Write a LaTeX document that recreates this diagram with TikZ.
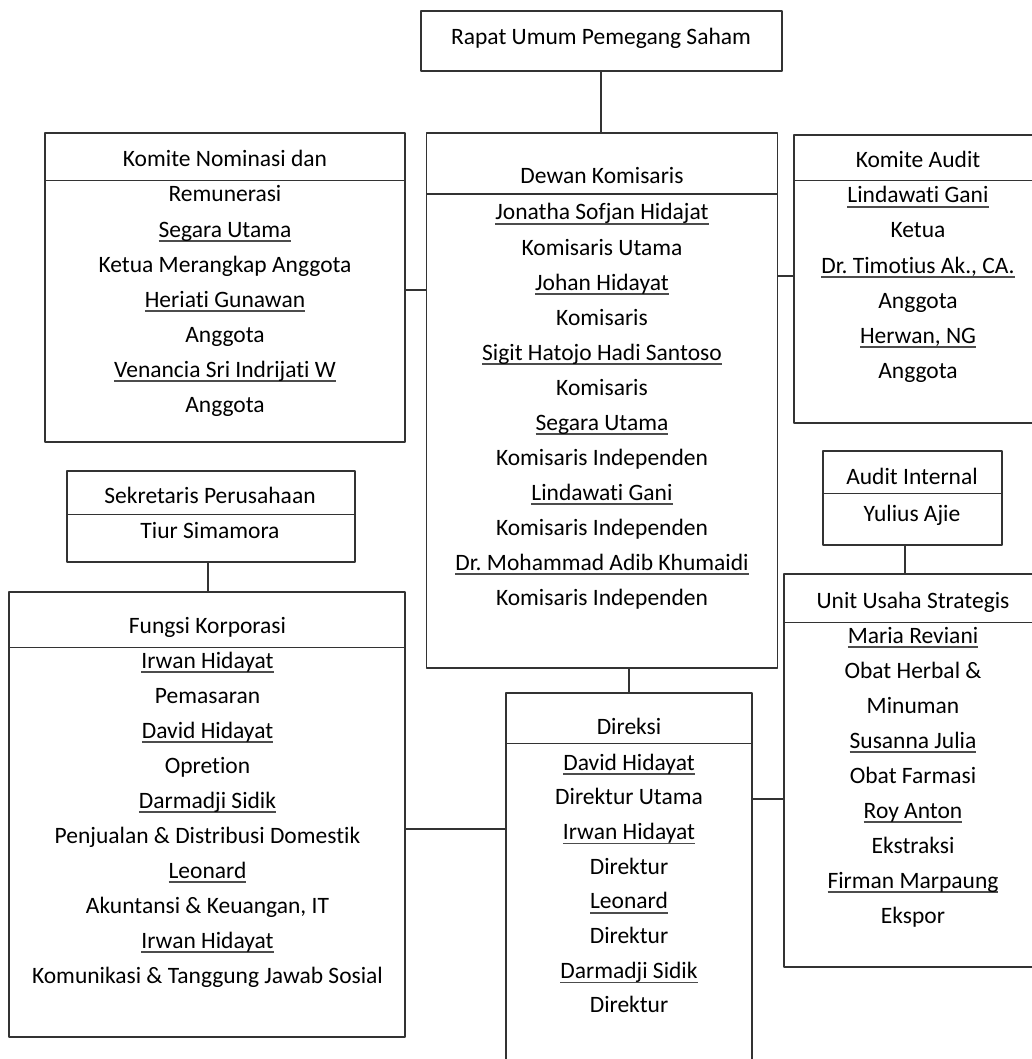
\documentclass[tikz,border=0pt]{standalone}
\usepackage{fontspec}
\setmainfont{Carlito}[Ligatures=NoCommon]
\frenchspacing
% underlined name: a fixed-depth rule under the text
\newsavebox\nmbox
\newcommand\nm[1]{\sbox\nmbox{#1}\rlap{\textcolor{black!70}{\rule[-4.7pt]{\wd\nmbox}{1.4pt}}}\usebox\nmbox}
\begin{document}
\begin{tikzpicture}[x=1pt,y=-1pt,
  box/.style={draw=black!80, line width=1.8pt, rectangle, inner sep=0pt, outer sep=0pt, line join=round},
  rulebar/.style={draw=black!80, line width=1.5pt},
  link/.style={draw=black!80, line width=1.8pt},
  txt/.style={anchor=base, inner sep=0pt, font=\fontsize{23.5}{28}\selectfont, text=black}]
\useasboundingbox (0,0) rectangle (1032,1059);
\fill[white] (0,0) rectangle (1032,1059);
\clip (0,0) rectangle (1032,1059);

% boxes
\node[box, minimum width=361.3pt, minimum height=59.7pt] (rups) at (601.3,40.8) {};
\node[box, minimum width=351pt, minimum height=535pt] (dewan) at (602,400.2) {};
\node[box, minimum width=360pt, minimum height=308.4pt] (komnom) at (225,287.5) {};
\node[box, minimum width=247.7pt, minimum height=288.3pt] (komaudit) at (918.2,279.2) {};
\node[box, minimum width=288.3pt, minimum height=91pt] (sekper) at (210.8,516.2) {};
\node[box, minimum width=395.7pt, minimum height=445.3pt] (fungsi) at (207.2,814.3) {};
\node[box, minimum width=245.7pt, minimum height=382.3pt] (direksi) at (628.8,883.8) {};
\node[box, minimum width=179pt, minimum height=94pt] (auditint) at (912.2,498) {};
\node[box, minimum width=258pt, minimum height=392.4pt] (unit) at (913,770.5) {};

% header dividers
\draw[rulebar] (dewan.west |- 0,194) -- (dewan.east |- 0,194);
\draw[rulebar] (komnom.west |- 0,180.7) -- (komnom.east |- 0,180.7);
\draw[rulebar] (komaudit.west |- 0,180.7) -- (komaudit.east |- 0,180.7);
\draw[rulebar] (sekper.west |- 0,514.3) -- (sekper.east |- 0,514.3);
\draw[rulebar] (fungsi.west |- 0,647.3) -- (fungsi.east |- 0,647.3);
\draw[rulebar] (direksi.west |- 0,743.3) -- (direksi.east |- 0,743.3);
\draw[rulebar] (auditint.west |- 0,493.3) -- (auditint.east |- 0,493.3);
\draw[rulebar] (unit.west |- 0,622.3) -- (unit.east |- 0,622.3);

% connectors
\coordinate (sekx) at (208.3,0);
\coordinate (aix) at (905,0);
\draw[link] (rups.south) -- (rups.south |- dewan.north);
\draw[link] (komnom.east |- 0,290) -- (dewan.west |- 0,290);
\draw[link] (dewan.east |- 0,275.7) -- (komaudit.west |- 0,275.7);
\draw[link] (direksi.north |- dewan.south) -- (direksi.north);
\draw[link] (sekper.south -| sekx) -- (fungsi.north -| sekx);
\draw[link] (auditint.south -| aix) -- (unit.north -| aix);
\draw[link] (fungsi.east |- 0,829) -- (direksi.west |- 0,829);
\draw[link] (direksi.east |- 0,799) -- (unit.west |- 0,799);

% texts
\node[txt] (rups-t) at (601,45) {Rapat Umum Pemegang Saham};

\node[txt] (dewan-t) at (602,184) {Dewan Komisaris};
\foreach \t [count=\i] in {{\nm{Jonatha Sofjan Hidajat}}, {Komisaris Utama}, {\nm{Johan Hidayat}}, {Komisaris},
  {\nm{Sigit Hatojo Hadi Santoso}}, {Komisaris}, {\nm{Segara Utama}}, {Komisaris Independen},
  {\nm{Lindawati Gani}}, {Komisaris Independen}, {\nm{Dr. Mohammad Adib Khumaidi}}, {Komisaris Independen}}
  \node[txt] (dewan-\i) at (602,{220+35*(\i-1)}) {\t};

\node[txt] (komnom-t) at (225,167) {Komite Nominasi dan};
\foreach \t [count=\i] in {{Remunerasi}, {\nm{Segara Utama}}, {Ketua Merangkap Anggota}, {\nm{Heriati Gunawan}},
  {Anggota}, {\nm{Venancia Sri Indrijati W}}, {Anggota}}
  \node[txt] (komnom-\i) at (225,{202+35*(\i-1)}) {\t};

\node[txt] (komaudit-t) at (918,168) {Komite Audit};
\foreach \t [count=\i] in {{\nm{Lindawati Gani}}, {Ketua}, {\nm{Dr. Timotius Ak., CA.}}, {Anggota},
  {\nm{Herwan, NG}}, {Anggota}}
  \node[txt] (komaudit-\i) at (918,{203+35*(\i-1)}) {\t};

\node[txt] (sekper-t) at (210,503) {Sekretaris Perusahaan};
\node[txt] (sekper-1) at (210,538.7) {Tiur Simamora};

\node[txt] (fungsi-t) at (207.5,633) {Fungsi Korporasi};
\foreach \t [count=\i] in {{\nm{Irwan Hidayat}}, {Pemasaran}, {\nm{David Hidayat}}, {Opretion},
  {\nm{Darmadji Sidik}}, {Penjualan \& Distribusi Domestik}, {\nm{Leonard}}, {Akuntansi \& Keuangan, IT},
  {\nm{Irwan Hidayat}}, {Komunikasi \& Tanggung Jawab Sosial}}
  \node[txt] (fungsi-\i) at (207.5,{668+35*(\i-1)}) {\t};

\node[txt] (direksi-t) at (629,734) {Direksi};
\foreach \t [count=\i] in {{\nm{David Hidayat}}, {Direktur Utama}, {\nm{Irwan Hidayat}}, {Direktur},
  {\nm{Leonard}}, {Direktur}, {\nm{Darmadji Sidik}}, {Direktur}}
  \node[txt] (direksi-\i) at (629,{770+34.7*(\i-1)}) {\t};

\node[txt] (auditint-t) at (912,484) {Audit Internal};
\node[txt] (auditint-1) at (912,521.3) {Yulius Ajie};

\node[txt] (unit-t) at (913,608) {Unit Usaha Strategis};
\foreach \t [count=\i] in {{\nm{Maria Reviani}}, {Obat Herbal \&}, {Minuman}, {\nm{Susanna Julia}},
  {Obat Farmasi}, {\nm{Roy Anton}}, {Ekstraksi}, {\nm{Firman Marpaung}}, {Ekspor}}
  \node[txt] (unit-\i) at (913,{643+35*(\i-1)}) {\t};
\end{tikzpicture}
\end{document}
